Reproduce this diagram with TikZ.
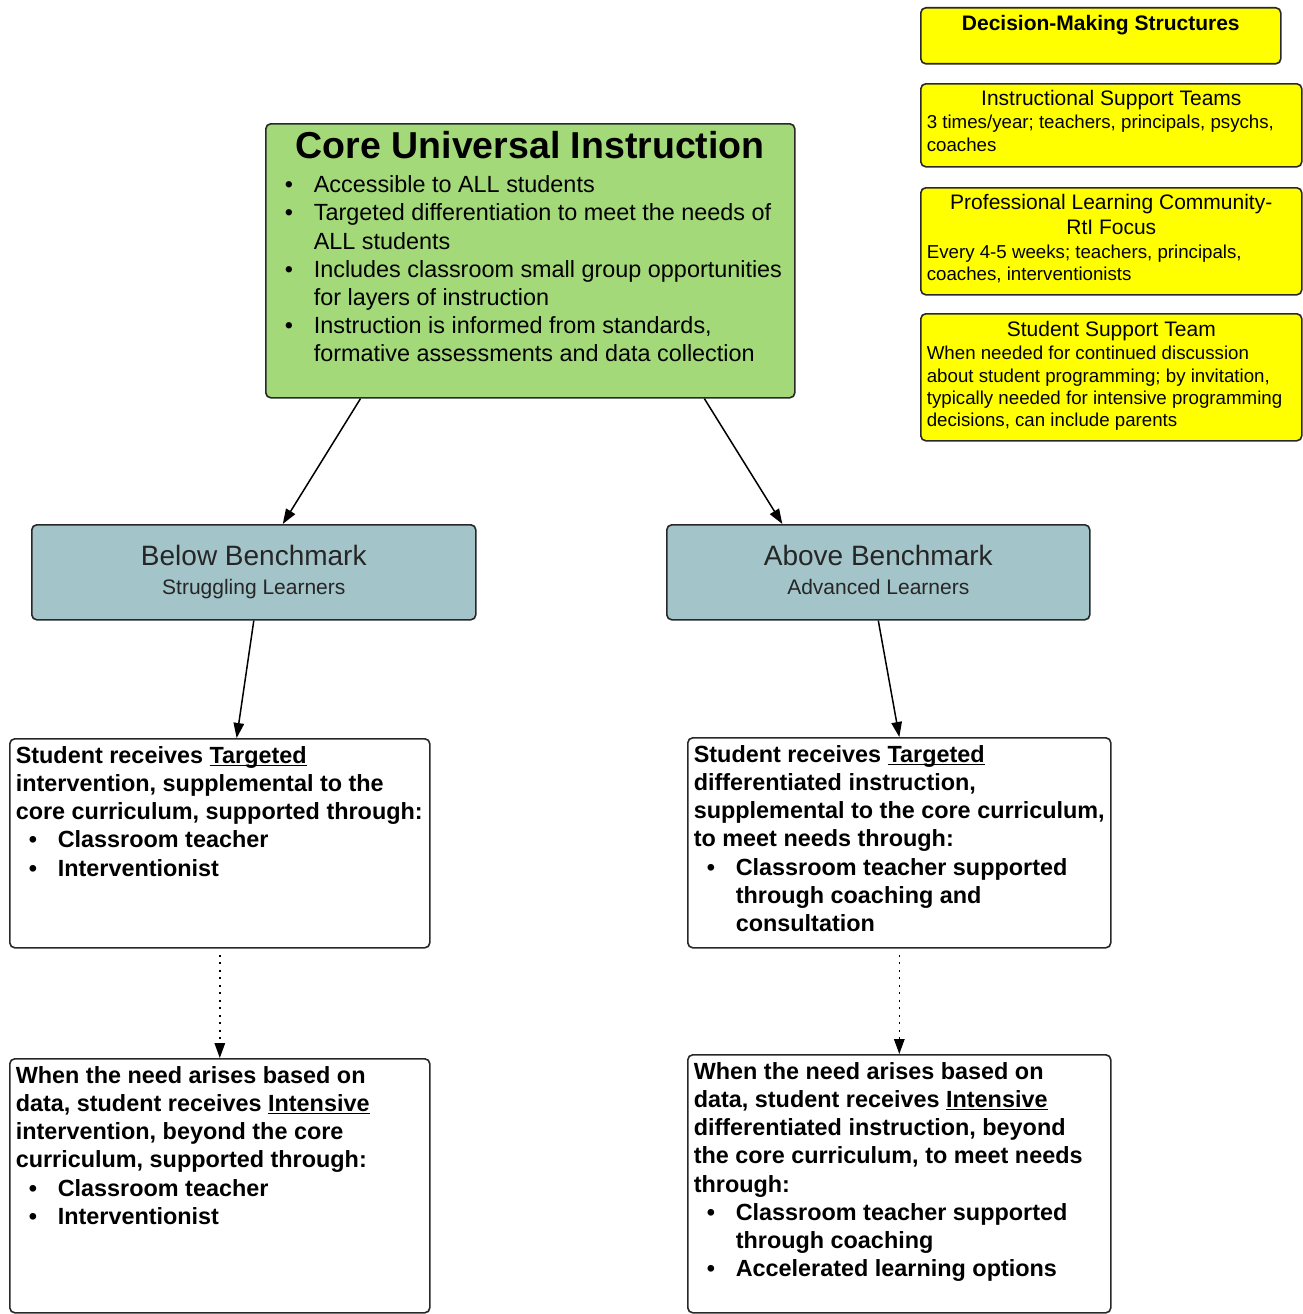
\documentclass[tikz,border=0pt]{standalone}
\usepackage{fontspec}
\setmainfont{Liberation Sans}
\usetikzlibrary{arrows.meta,calc}

\newcommand{\boxbody}[3]{\parbox[c][#2][t]{#1}{\raggedright #3}}
\newcommand{\bul}{\makebox[42pt][l]{\hspace{13pt}\textbullet}}
\newcommand{\contd}{\hspace*{42pt}}
\newcommand{\undl}[1]{\setbox0=\hbox{#1}\rlap{\rule[-3pt]{\wd0}{1.3pt}}\box0}

\begin{document}
\begin{tikzpicture}[x=1pt,y=-1pt,
  panel/.style={draw=edgegray,line width=1.6pt,rounded corners=5pt,anchor=north west,inner xsep=6pt,inner ysep=0pt,text=black},
  ybox/.style={panel,fill=structyellow,font=\fontsize{21}{25}\selectfont},
  corebox/.style={panel,fill=coregreen,font=\fontsize{23.4}{28.2}\selectfont},
  benchbox/.style={panel,fill=benchteal,align=center,text=black!85,font=\fontsize{21}{28.6}\selectfont,minimum height=95pt},
  notebox/.style={panel,fill=white,font=\fontsize{23.4}{28.2}\selectfont\bfseries},
  flow/.style={-{Triangle[length=15pt,width=10.5pt]},line width=1.5pt},
  dotflow/.style={flow,dash pattern=on 2pt off 5.5pt}]
% Define colors
\definecolor{coregreen}{RGB}{163,217,121}
\definecolor{benchteal}{RGB}{163,196,201}
\definecolor{structyellow}{RGB}{255,255,0}
\definecolor{edgegray}{RGB}{40,40,40}

\useasboundingbox (0,0) rectangle (1302,1314);

% Decision-making structures (right column)
\node[ybox] (dms) at (920,7) {\boxbody{348pt}{56pt}{\vspace*{7pt}\centering\bfseries Decision-Making Structures}};

\node[ybox] (ist) at (920,83) {\boxbody{369pt}{83pt}{\vspace*{6pt}{\centering Instructional Support Teams\par}
{\fontsize{18.7}{23}\selectfont 3 times/year; teachers, principals, psychs,\\
coaches\par}}};

\node[ybox] (plc) at (920,187) {\boxbody{369pt}{107pt}{\vspace*{6pt}{\centering Professional Learning Community-\\
RtI Focus\par}\vspace{1.5pt}
{\fontsize{18.7}{22.5}\selectfont Every 4-5 weeks; teachers, principals,\\
coaches, interventionists\par}}};

\node[ybox] (sst) at (920,313) {\boxbody{369pt}{127pt}{\vspace*{7pt}{\centering Student Support Team\par}\vspace{1.5pt}
{\fontsize{18.7}{22.3}\selectfont When needed for continued discussion\\
about student programming; by invitation,\\
typically needed for intensive programming\\
decisions, can include parents\par}}};

% Core instruction
\node[corebox] (core) at (265,123) {\boxbody{517pt}{274pt}{\vspace*{8pt}{\centering\fontsize{37.5}{40}\selectfont\bfseries Core Universal Instruction\par}\vspace{5.6pt}
\bul Accessible to ALL students\\
\bul Targeted differentiation to meet the needs of\\
\contd ALL students\\
\bul Includes classroom small group opportunities\\
\contd for layers of instruction\\
\bul Instruction is informed from standards,\\
\contd formative assessments and data collection}};

% Benchmark groups
\node[benchbox,minimum width=444pt] (below) at (31,524) {{\fontsize{28}{30}\selectfont Below Benchmark}\\Struggling Learners};
\node[benchbox,minimum width=423pt] (above) at (666,524) {{\fontsize{28}{30}\selectfont Above Benchmark}\\Advanced Learners\vphantom{g}};

% Targeted level
\node[notebox] (targL) at (9,738) {\boxbody{408pt}{209pt}{\vspace*{7.5pt}Student receives \undl{Targeted}\\
intervention, supplemental to the\\
core curriculum, supported through:\\
\bul Classroom teacher\\
\bul Interventionist}};

\node[notebox] (targR) at (687,737) {\boxbody{411pt}{210pt}{\vspace*{7.5pt}Student receives \undl{Targeted}\\
differentiated instruction,\\
supplemental to the core curriculum,\\
to meet needs through:\\
\bul Classroom teacher supported\\
\contd through coaching and\\
\contd consultation}};

% Intensive level
\node[notebox] (intL) at (9,1058) {\boxbody{408pt}{254pt}{\vspace*{7.5pt}When the need arises based on\\
data, student receives \undl{Intensive}\\
intervention, beyond the core\\
curriculum, supported through:\\
\bul Classroom teacher\\
\bul Interventionist}};

\node[notebox] (intR) at (687,1054) {\boxbody{411pt}{258pt}{\vspace*{7.5pt}When the need arises based on\\
data, student receives \undl{Intensive}\\
differentiated instruction, beyond\\
the core curriculum, to meet needs\\
through:\\
\bul Classroom teacher supported\\
\contd through coaching\\
\bul Accelerated learning options}};

% Arrows
\draw[flow] ($(core.south west)!0.18!(core.south east)$) -- ($(below.north west)!0.565!(below.north east)$);
\draw[flow] ($(core.south west)!0.828!(core.south east)$) -- ($(above.north west)!0.274!(above.north east)$);
\draw[flow] (below.south) -- ($(targL.north west)!0.54!(targL.north east)$);
\draw[flow] (above.south) -- (targR.north);
\draw[dotflow] ([yshift=-6pt]targL.south) -- (intL.north);
\draw[dotflow] ([yshift=-6pt]targR.south) -- (intR.north);

\end{tikzpicture}
\end{document}
